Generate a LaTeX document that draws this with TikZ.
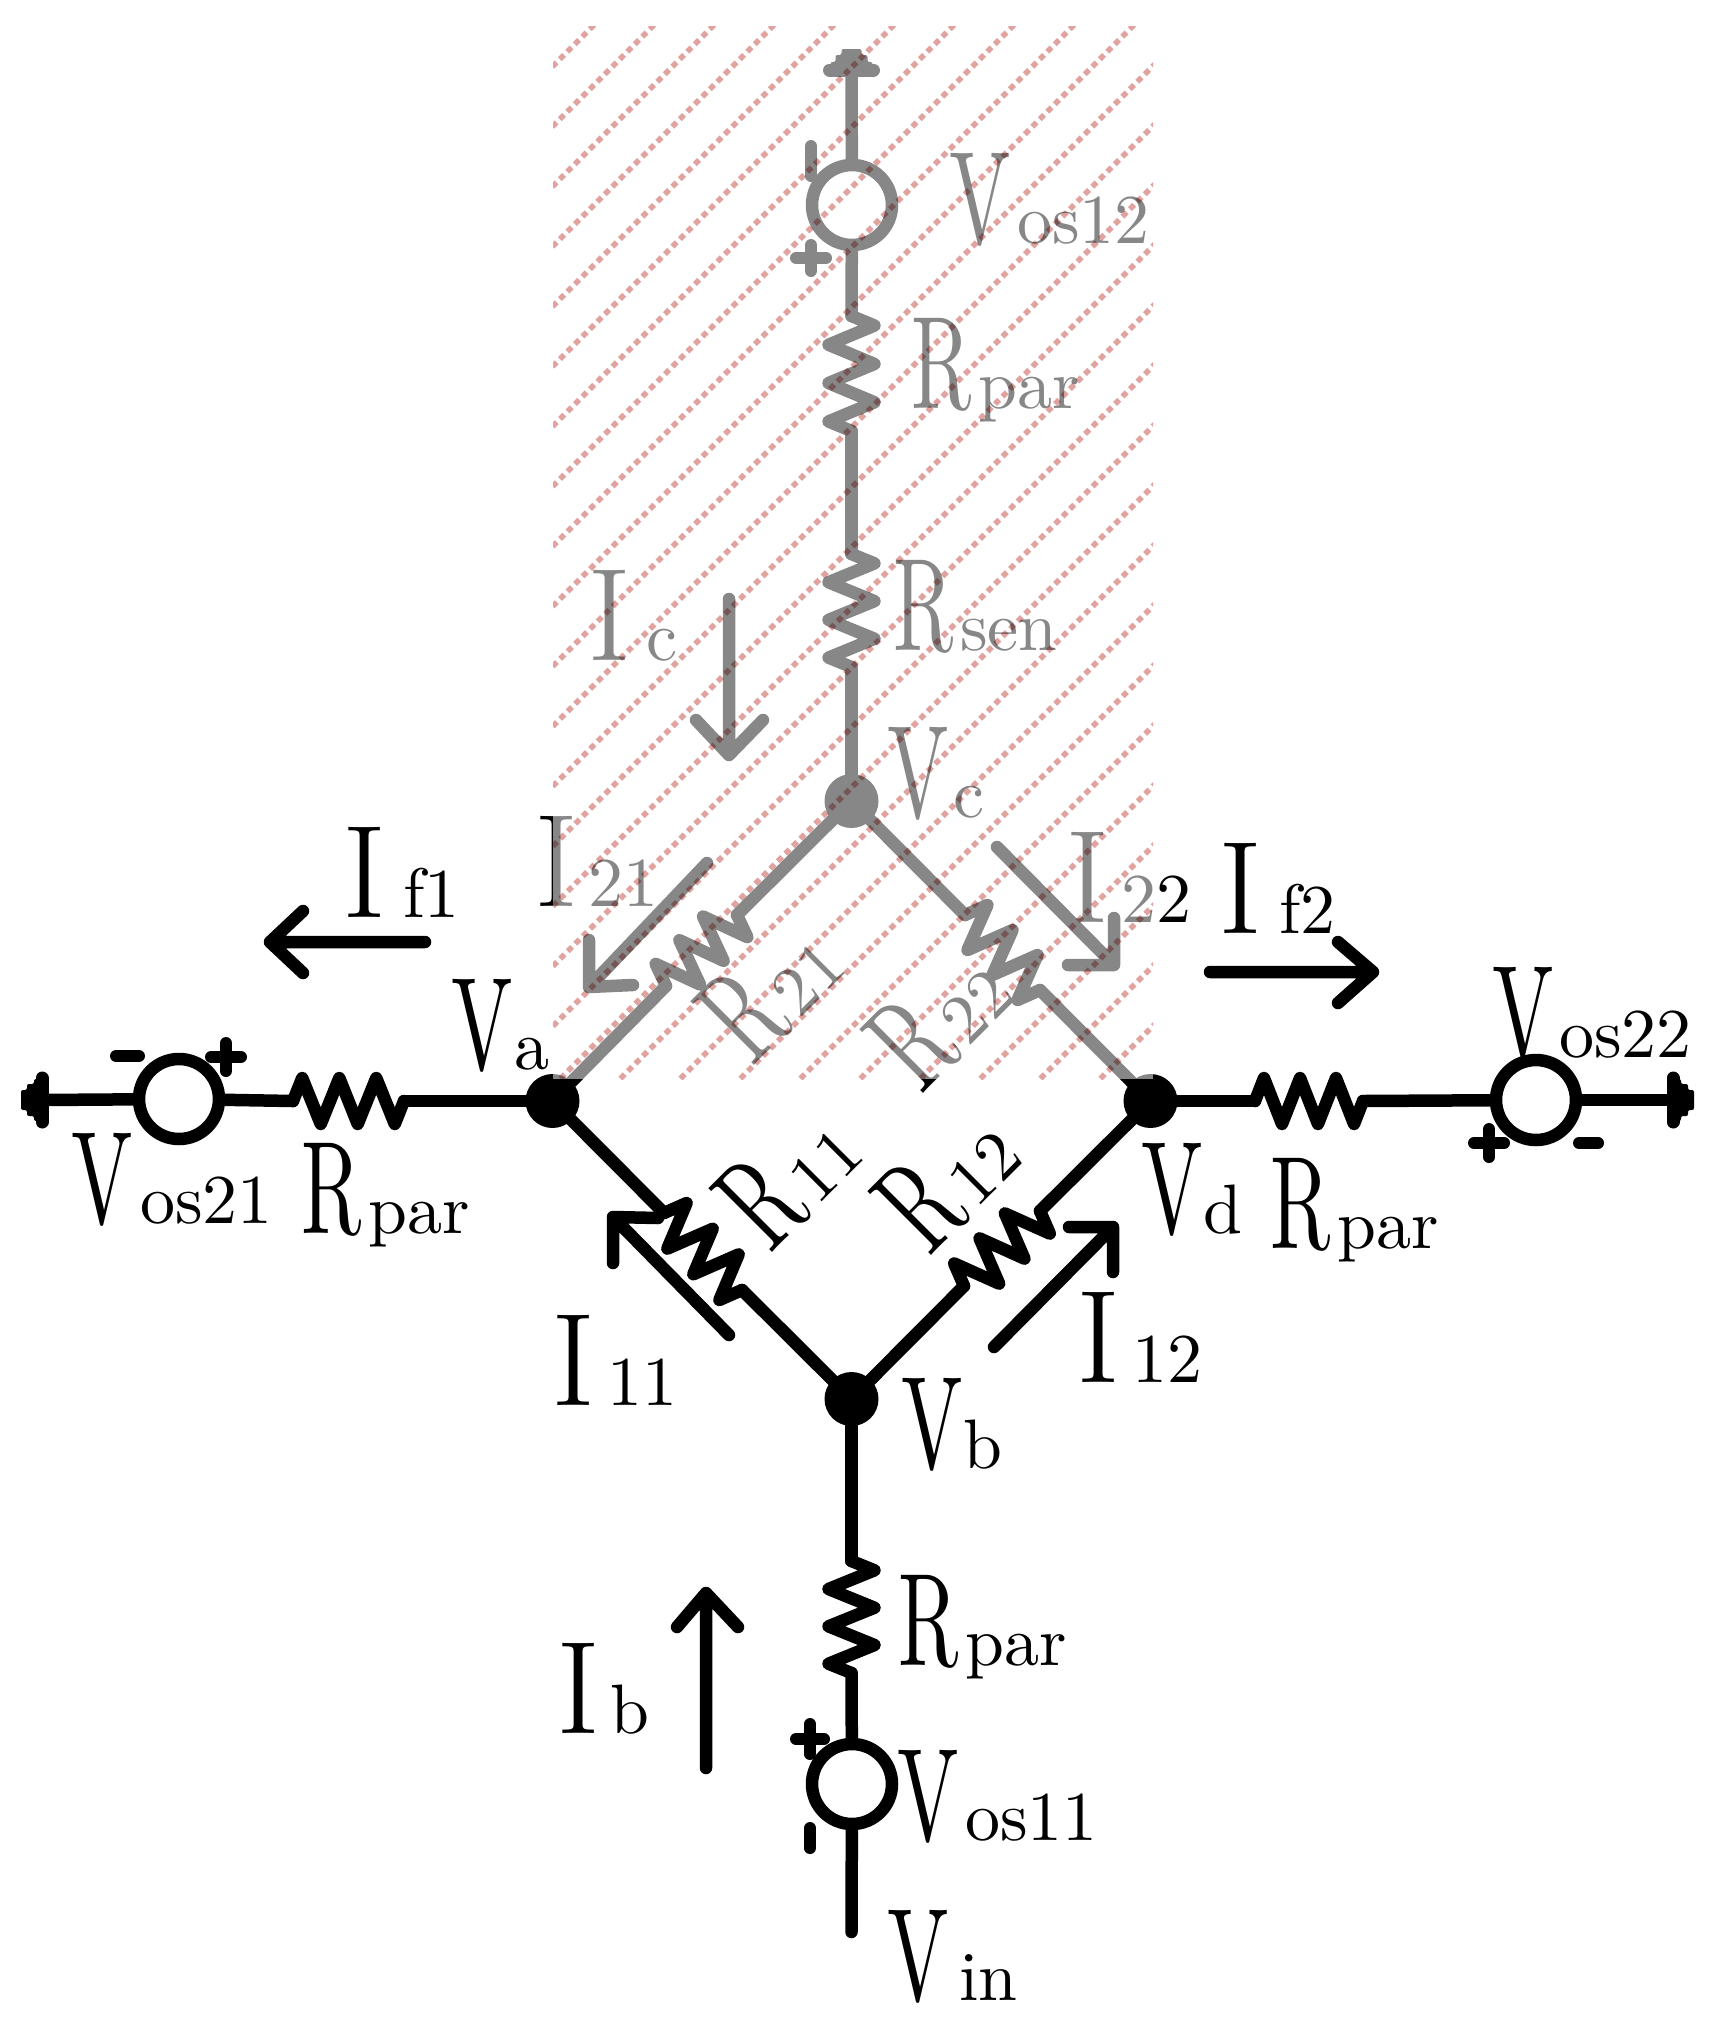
\documentclass[tikz,border=0pt]{standalone}
\usepackage{graphicx}
\usetikzlibrary{calc}
\font\lmMain="[lmroman10-regular.otf]" at 132pt
\font\lmThin="[lmroman17-regular.otf]" at 132pt
\font\lmSub="[lmroman10-regular.otf]" at 70pt
\tikzset{
  wire/.style={line width=12.5pt,line cap=round,line join=round},
  flow/.style={line width=12.5pt,line cap=round,line join=round},
  sign/.style={line width=12pt,line cap=round},
  dotnode/.style={circle,fill=black,inner sep=0pt,outer sep=0pt,minimum size=54pt},
  source/.style={circle,draw=black,line width=12.5pt,inner sep=0pt,minimum size=80pt},
  lab/.style={anchor=base west,inner sep=0pt,outer sep=0pt,text=black},
  hatchline/.style={line width=5.5pt,draw=hatchpink,dash pattern=on 6pt off 4.6pt}
}
\definecolor{hatchpink}{HTML}{E0A39F}
\newcommand{\mainL}[2]{\scalebox{#2}[1]{\lmMain #1}}
\newcommand{\subL}[1]{{\lmSub #1}}
\newcommand{\tV}[2][7pt]{\mainL{V}{.62}\kern#1\subL{#2}}
\newcommand{\tR}[1]{\mainL{R}{.62}\kern7pt\subL{#1}}
\newcommand{\tI}[2][12pt]{\scalebox{1.02}[1]{\lmThin I}\kern#1\subL{#2}}
% zigzag resistor between two named coordinates
\newcommand{\zig}[2]{\draw[wire] (#1)
  -- ($(#1)!.083!(#2)!23pt!90:(#2)$)
  -- ($(#1)!.25!(#2)!23pt!-90:(#2)$)
  -- ($(#1)!.417!(#2)!23pt!90:(#2)$)
  -- ($(#1)!.583!(#2)!23pt!-90:(#2)$)
  -- ($(#1)!.75!(#2)!23pt!90:(#2)$)
  -- ($(#1)!.917!(#2)!23pt!-90:(#2)$)
  -- (#2);}
% grounded terminal: #1 centre of bar, #2 outward direction
\newcommand{\terminal}[2]{\begin{scope}[shift={(#1)},rotate=#2]
  \draw[line width=13pt,line cap=round] (0,-22) -- (0,22);
  \fill[black,rounded corners=2pt] (0,-21) -- (8,-21) -- (8,-16) -- (15,-16) -- (15,-10) -- (21,-10) -- (21,10) -- (15,10) -- (15,16) -- (8,16) -- (8,21) -- (0,21) -- cycle;
\end{scope}}
\begin{document}
\begin{tikzpicture}[x=1pt,y=-1pt]
\useasboundingbox (0,0) rectangle (1722,2019);
% junctions
\node[dotnode] (Va) at (552.5,1101) {};
\node[dotnode] (Vd) at (1150.5,1101) {};
\node[dotnode] (Vb) at (851.5,1399) {};
\node[dotnode] (Vc) at (851.5,801) {};
% sources
\node[source] (S12) at (852,205) {};
\node[source] (S21) at (179,1099) {};
\node[source] (S22) at (1536,1100) {};
\node[source] (S11) at (852,1784) {};
% resistor ends
\coordinate (Rta) at (851.5,316); \coordinate (Rtb) at (851.5,431);
\coordinate (Rsa) at (851.5,554); \coordinate (Rsb) at (851.5,667);
\coordinate (Rla) at (293,1101);  \coordinate (Rlb) at (404,1101);
\coordinate (Rra) at (1255,1101); \coordinate (Rrb) at (1363,1101);
\coordinate (Rba) at (851.5,1561);\coordinate (Rbb) at (851.5,1673);
\coordinate (R21a) at (737,915);  \coordinate (R21b) at (666,986);
\coordinate (R22a) at (965,915);  \coordinate (R22b) at (1040,990);
\coordinate (R11a) at (664,1213); \coordinate (R11b) at (742,1290);
\coordinate (R12a) at (964,1286); \coordinate (R12b) at (1040,1211);
% terminals
\coordinate (Tt) at (851.5,70);
\coordinate (Tl) at (42,1100);
\coordinate (Tr) at (1673,1100);
\coordinate (Tb) at (851.5,1932);
\terminal{Tt}{90}
\terminal{Tl}{180}
\terminal{Tr}{0}
% wires
\draw[wire] (Tt) -- (S12);
\draw[wire] (S12) -- (Rta);
\draw[wire] (Rtb) -- (Rsa);
\draw[wire] (Rsb) -- (Vc);
\draw[wire] (Vc) -- (R21a);
\draw[wire] (R21b) -- (Va);
\draw[wire] (Vc) -- (R22a);
\draw[wire] (R22b) -- (Vd);
\draw[wire] (Va) -- (R11a);
\draw[wire] (R11b) -- (Vb);
\draw[wire] (Vb) -- (R12a);
\draw[wire] (R12b) -- (Vd);
\draw[wire] (Tl) -- (S21);
\draw[wire] (S21) -- (Rla);
\draw[wire] (Rlb) -- (Va);
\draw[wire] (Vd) -- (Rra);
\draw[wire] (Rrb) -- (S22);
\draw[wire] (S22) -- (Tr);
\draw[wire] (Vb) -- (Rba);
\draw[wire] (Rbb) -- (S11);
\draw[wire] (S11) -- (Tb);
\zig{Rta}{Rtb}
\zig{Rsa}{Rsb}
\zig{Rla}{Rlb}
\zig{Rra}{Rrb}
\zig{Rba}{Rbb}
\zig{R21a}{R21b}
\zig{R22a}{R22b}
\zig{R11a}{R11b}
\zig{R12a}{R12b}
% polarity signs
\draw[sign] (796,258) -- (826,258) (811,245) -- (811,271);
\draw[sign] (811,146) -- (811,176);
\draw[sign] (116,1056) -- (139,1056);
\draw[sign] (211,1057) -- (241,1057) (226,1043) -- (226,1071);
\draw[sign] (1474,1143) -- (1504,1143) (1489,1129) -- (1489,1157);
\draw[sign] (1579,1143) -- (1598,1143);
\draw[sign] (796,1739) -- (824,1739) (810,1724) -- (810,1754);
\draw[sign] (810,1828) -- (810,1848);
% current arrows
\coordinate (AcT) at (729,599); \coordinate (AcH) at (729,755);
\draw[flow] (AcT) -- (AcH) (696,720) -- (AcH) -- (763,720);
\coordinate (A21T) at (707,863); \coordinate (A21H) at (589,987);
\draw[flow] (A21T) -- (A21H) (589,940) -- (A21H) -- (633,985);
\coordinate (A22T) at (997,847); \coordinate (A22H) at (1114,965);
\draw[flow] (A22T) -- (A22H) (1114,918) -- (A22H) -- (1068,965);
\coordinate (Af1T) at (425,942); \coordinate (Af1H) at (270,942);
\draw[flow] (Af1T) -- (Af1H) (303,911) -- (Af1H) -- (303,973);
\coordinate (Af2T) at (1210,972); \coordinate (Af2H) at (1373,972);
\draw[flow] (Af2T) -- (Af2H) (1338,942) -- (Af2H) -- (1338,1003);
\coordinate (A11T) at (729,1335); \coordinate (A11H) at (613,1217);
\draw[flow] (A11T) -- (A11H) (613,1263) -- (A11H) -- (658,1218);
\coordinate (A12T) at (994,1347); \coordinate (A12H) at (1113,1227);
\draw[flow] (A12T) -- (A12H) (1113,1272) -- (A12H) -- (1069,1227);
\coordinate (AbT) at (706,1768); \coordinate (AbH) at (706,1593);
\draw[flow] (AbT) -- (AbH) (677,1627) -- (AbH) -- (738,1627);
% labels
\node[lab] (LVos12) at (949,243) {\tV{os12}};
\node[lab] (LRt) at (911,408) {\tR{par}};
\node[lab] (LRs) at (893,650) {\tR{sen}};
\node[lab] (LIc) at (587,660) {\tI[15pt]{c}};
\node[lab] (LVc) at (887,817) {\tV[5pt]{c}};
\node[lab] (LI21) at (534,906) {\tI[10pt]{21}};
\node[lab] (LI22) at (1065,922) {\tI{22}};
\node[lab] (LIf1) at (342,917) {\tI[17pt]{f1}};
\node[lab] (LIf2) at (1218,933) {\tI[17pt]{f2}};
\node[lab] (LVa) at (451,1069) {\tV[2pt]{a}};
\node[lab] (LVos22) at (1492,1057) {\tV[6pt]{os22}};
\node[lab] (LVos21) at (71,1223) {\tV[8pt]{os21}};
\node[lab] (LRl) at (301,1233) {\tR{par}};
\node[lab] (LVd) at (1141,1233) {\tV[1pt]{d}};
\node[lab] (LRr) at (1270,1248) {\tR{par}};
\node[lab] (LI11) at (551,1405) {\tI{11}};
\node[lab] (LI12) at (1076,1382) {\tI{12}};
\node[lab] (LVb) at (901,1468) {\tV[1pt]{b}};
\node[lab] (LRb) at (898,1665) {\tR{par}};
\node[lab] (LIb) at (556,1733) {\tI[10pt]{b}};
\node[lab] (LVos11) at (897,1840) {\tV{os11}};
\node[lab] (LVin) at (887,2000) {\tV[11pt]{in}};
\node[lab,rotate=45] (LR21) at (752,1067) {\tR{21}};
\node[lab,rotate=45] (LR22) at (921,1095) {\tR{22}};
\node[lab,rotate=45] (LR11) at (770,1254) {\tR{11}};
\node[lab,rotate=45] (LR12) at (929,1257) {\tR{12}};
% veil and hatching over the upper region
\fill[white,opacity=.53] (553,26) rectangle (1153,1079);
\begin{scope}[blend mode=multiply]
\clip (553,26) rectangle (1153,1079);
\foreach \k in {0,...,28}{
  \pgfmathsetmacro{\c}{559+60*\k}
  \draw[hatchline] (\c-10,10) -- (\c-1200,1200);
}
\end{scope}
\end{tikzpicture}
\end{document}
